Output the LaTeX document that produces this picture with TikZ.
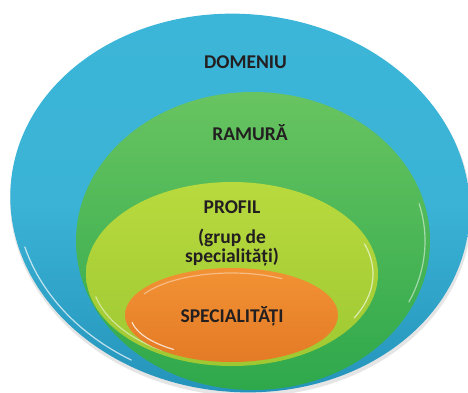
\documentclass[tikz,border=0pt]{standalone}
\usepackage{fontspec}
\setmainfont{Carlito}
\definecolor{blueA}{RGB}{60,182,216}
\definecolor{blueB}{RGB}{36,146,186}
\definecolor{greenA}{RGB}{104,196,96}
\definecolor{greenB}{RGB}{46,168,76}
\definecolor{yellowA}{RGB}{184,218,62}
\definecolor{yellowB}{RGB}{158,200,50}
\definecolor{orangeA}{RGB}{242,146,52}
\definecolor{orangeB}{RGB}{228,122,38}
\definecolor{txt}{RGB}{35,31,32}
\begin{document}
\begin{tikzpicture}[x=1pt,y=-1pt,
  lbl/.style={font=\fontsize{19.5}{20}\selectfont\bfseries, text=txt, anchor=base, inner sep=0pt},
  gloss/.style={white, line width=1.2pt, opacity=0.7, line cap=round}]
\useasboundingbox (0,0) rectangle (468,392);
% DOMENIU
\begin{scope}[rotate around={-5:(240,203)}]
  \fill[black!10] (241,206) ellipse[x radius=231, y radius=190];
  \shade[top color=blueA, bottom color=blueB, middle color=blueA!92!blueB]
    (240,203) ellipse[x radius=230, y radius=189];
  \draw[gloss] (240,203) ++(160:224 and 183) arc[start angle=160, end angle=115, x radius=224, y radius=183];
\end{scope}
% RAMURA
\shade[top color=greenA, bottom color=greenB] (253,241) ellipse[x radius=177, y radius=149];
\draw[gloss, opacity=0.5] (253,241) ++(-15:172 and 144) arc[start angle=-15, end angle=25, x radius=172, y radius=144];
% PROFIL
\shade[top color=yellowA, bottom color=yellowB] (232,274) ellipse[x radius=146, y radius=92];
\draw[gloss, opacity=0.6] (232,274) ++(-20:141 and 88) arc[start angle=-20, end angle=30, x radius=141, y radius=88];
\draw[gloss, opacity=0.5] (232,274) ++(165:141 and 88) arc[start angle=165, end angle=120, x radius=141, y radius=88];
% SPECIALITATI
\shade[top color=orangeA, bottom color=orangeB] (231.5,315) ellipse[x radius=106.5, y radius=47];
\draw[gloss, opacity=0.75] (231.5,315) ++(170:101 and 42) arc[start angle=170, end angle=125, x radius=101, y radius=42];
\draw[gloss, opacity=0.4] (231.5,315) ++(-150:101 and 42) arc[start angle=-150, end angle=-60, x radius=101, y radius=42];
% labels
\node[lbl] (domeniu) at (245.5,68) {DOMENIU};
\node[lbl] (ramura) at (250,140) {RAMURĂ};
\node[lbl] (profil) at (232,213) {PROFIL};
\node[lbl] (grup) at (232,243) {(grup de};
\node[lbl] (spec) at (232,262) {specialități)};
\node[lbl] (specialitati) at (232,322) {SPECIALITĂȚI};
\end{tikzpicture}
\end{document}
